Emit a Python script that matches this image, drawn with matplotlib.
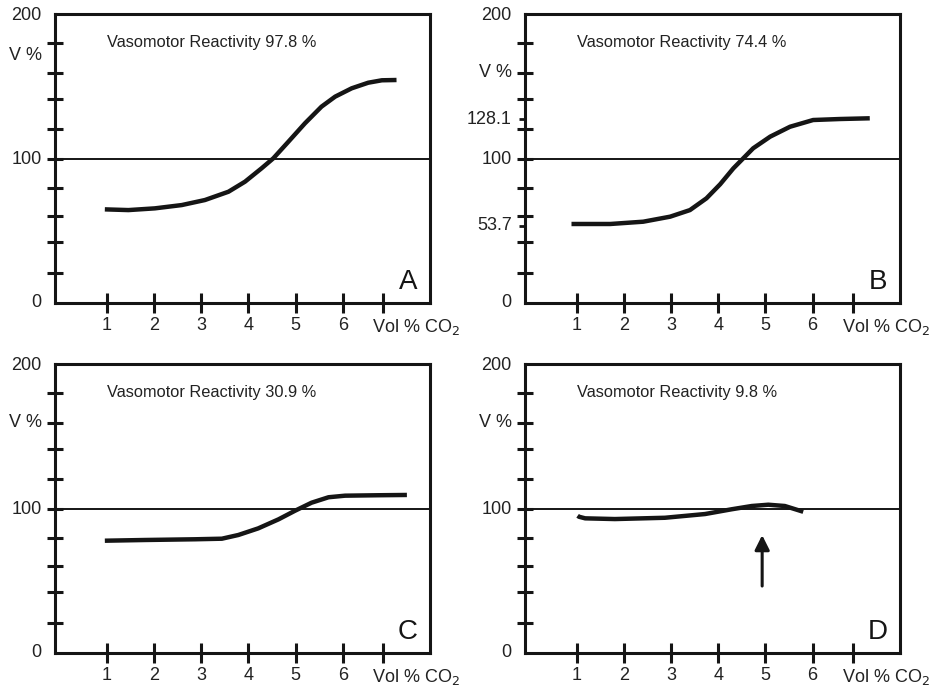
import numpy as np
import matplotlib
matplotlib.use("Agg")
import matplotlib.pyplot as plt

plt.rcParams['font.family'] = ['Liberation Sans', 'DejaVu Sans']

# values (x = Vol % CO2, y = V %)
xa = [0.96, 1.46, 2.02, 2.59, 3.08, 3.58, 3.93, 4.28, 4.53, 4.85, 5.2, 5.55, 5.84, 6.19, 6.54, 6.83, 7.14]
ya = [65.1, 64.6, 65.8, 68.1, 71.6, 77.4, 84.4, 93.7, 100.7, 112.3, 125.1, 136.7, 143.7, 149.5, 153.4, 155.1, 155.3]

xb = [0.89, 1.71, 2.41, 2.98, 3.40, 3.75, 4.04, 4.32, 4.53, 4.74, 5.10, 5.52, 6.01, 6.58, 7.21]
yb = [54.9, 54.9, 56.5, 60.0, 64.6, 72.8, 82.6, 93.7, 100.7, 107.7, 115.8, 122.7, 127.4, 128.1, 128.6]

xc = [0.96, 1.81, 2.87, 3.44, 3.79, 4.21, 4.64, 4.99, 5.34, 5.70, 6.05, 6.75, 7.36]
yc = [78.1, 78.6, 79.1, 79.5, 82.1, 86.7, 93.0, 99.0, 104.6, 108.4, 109.5, 109.8, 110.0]

xd = [1.02, 1.05, 1.18, 1.81, 2.87, 3.72, 4.28, 4.71, 5.06, 5.41, 5.80]
yd = [95.5, 94.8, 93.7, 93.2, 94.1, 96.7, 100.0, 102.3, 103.2, 102.3, 98.3]

reactivity = ["97.8", "74.4", "30.9", "9.8"]
letters = ["A", "B", "C", "D"]
xs = [xa, xb, xc, xd]
ys = [ya, yb, yc, yd]

xtick_pos = [1, 2, 3, 4, 5, 6, 6.86]
xtick_lab = ["1", "2", "3", "4", "5", "6", ""]
ytick_pos = [21, 42, 60.5, 80, 100, 121, 142, 160.5, 181.4]
vlabel_y = [172.7, 160.5, 160.5, 160.5]
b_marks = [53.7, 128.1]
arrow_d = (4.93, 46.5, 82.0)

ink = '#151515'
txt = '#222222'

fig = plt.figure(figsize=(9.33, 6.91), dpi=100)
boxes = [(0.0590, 0.5619), (0.5627, 0.5619), (0.0590, 0.0554), (0.5627, 0.0554)]

for i in range(4):
    l, b = boxes[i]
    ax = fig.add_axes([l, b, 0.4019, 0.4178])
    ax.set_xlim(-0.095, 7.85)
    ax.set_ylim(0, 201.3)
    for s in ax.spines.values():
        s.set_linewidth(2.2)
        s.set_color(ink)

    ax.axhline(100, color=ink, lw=1.4, zorder=2)
    ax.plot(xs[i], ys[i], color=ink, lw=3.2, solid_capstyle='butt',
            solid_joinstyle='round', zorder=3)

    ax.set_xticks(xtick_pos)
    ax.set_xticklabels(xtick_lab)
    ax.tick_params(axis='x', direction='inout', length=15, width=2.2,
                   color=ink, labelsize=13, labelcolor=txt, pad=3)
    ax.set_yticks(ytick_pos)
    ax.set_yticklabels([])
    ax.tick_params(axis='y', direction='inout', length=12, width=2.2, color=ink)
    if i == 1:
        ax.set_yticks(b_marks, minor=True)
        ax.tick_params(axis='y', which='minor', direction='out', length=4.5,
                       width=2.0, color=ink)
        ax.yaxis.remove_overlapping_locs = False

    ax.annotate("Vol % CO$_2$", xy=(6.62, 0), xycoords='data',
                xytext=(0, -21), textcoords='offset points',
                ha='left', va='baseline', fontsize=13, color=txt,
                annotation_clip=False)

    ylabs = [(200, "200"), (100, "100"), (0, "0"), (vlabel_y[i], "V %")]
    if i == 1:
        ylabs += [(128.1, "128.1"), (53.7, "53.7")]
    for yv, s in ylabs:
        ax.annotate(s, xy=(0, yv), xycoords=('axes fraction', 'data'),
                    xytext=(-9.5, 0), textcoords='offset points',
                    ha='right', va='center', fontsize=13, color=txt,
                    annotation_clip=False)

    ax.text(1.0, 181.5, "Vasomotor Reactivity " + reactivity[i] + " %",
            fontsize=11.8, color=txt, ha='left', va='center')
    ax.text(7.38, 14.4, letters[i], fontsize=20, color=ink,
            ha='center', va='center')

    if i == 3:
        ax.annotate('', xy=(arrow_d[0], arrow_d[2]), xytext=(arrow_d[0], arrow_d[1]),
                    arrowprops=dict(arrowstyle='-|>', lw=2.2, color=ink,
                                    mutation_scale=22, shrinkA=0, shrinkB=0))

fig.savefig("out.png", dpi=100)
